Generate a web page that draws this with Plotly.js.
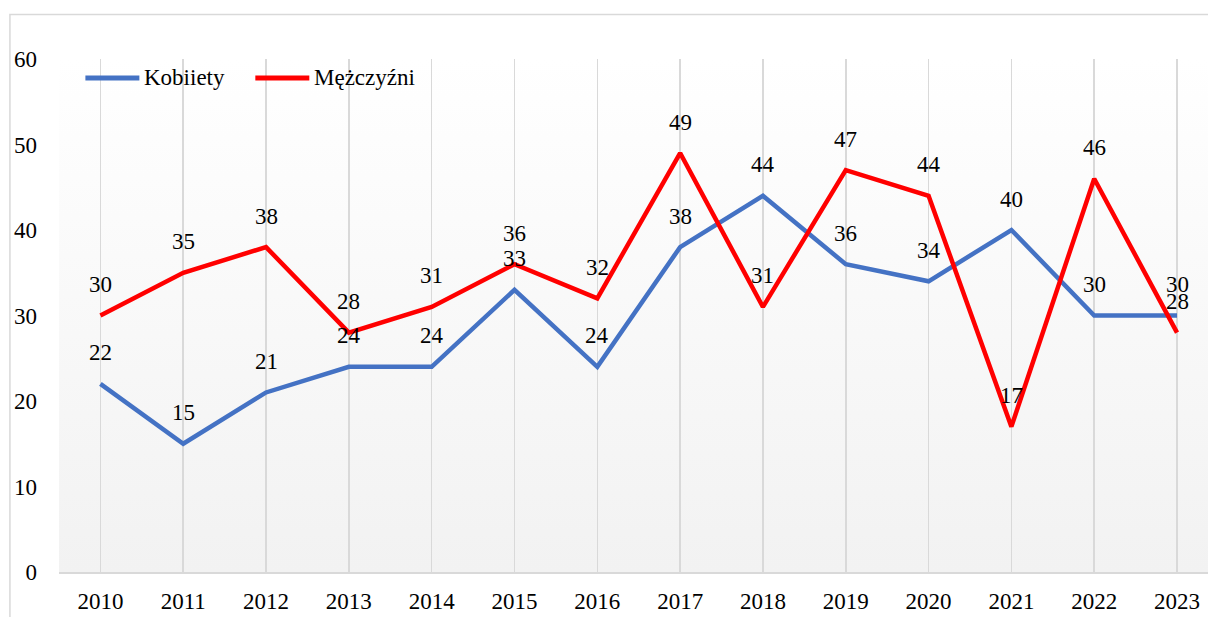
<!DOCTYPE html>
<html>
<head>
<meta charset="utf-8">
<script src="https://cdn.plot.ly/plotly-3.0.1.min.js"></script>
<style>
  html, body { margin: 0; padding: 0; background: #ffffff; }
  #wrap { position: relative; width: 1208px; height: 617px; overflow: hidden; }
  #bg { position: absolute; left: 58.6px; top: 59px; width: 1149.4px; height: 513px;
        background: linear-gradient(to bottom, #ffffff 0%, #f2f2f2 100%); }
  #chart { position: absolute; left: 0; top: 0; width: 1208px; height: 617px; }
</style>
</head>
<body>
<div id="wrap">
  <div id="bg"></div>
  <div id="chart"></div>
</div>
<script>
const years = ['2010','2011','2012','2013','2014','2015','2016','2017','2018','2019','2020','2021','2022','2023'];
const seriesNames = ['Kobiiety', 'Mężczyźni'];
const kobiety = [22, 15, 21, 24, 24, 33, 24, 38, 44, 36, 34, 40, 30, 30];
const mezczyzni = [30, 35, 38, 28, 31, 36, 32, 49, 31, 47, 44, 17, 46, 28];
const yTicks = [0, 10, 20, 30, 40, 50, 60];

const colors = ['#4472C4', '#FF0000'];
const fontFam = 'Liberation Serif';
const allSeries = [kobiety, mezczyzni];

const traces = allSeries.map((vals, i) => ({
  type: 'scatter',
  mode: 'lines',
  x: years,
  y: vals,
  name: seriesNames[i],
  line: { color: colors[i], width: 4.5 },
  hoverinfo: 'x+y+name'
}));

const annotations = [];
allSeries.forEach((vals, i) => {
  vals.forEach((v, j) => {
    annotations.push({
      x: j, y: v, xref: 'x', yref: 'y',
      text: String(v), showarrow: false,
      yanchor: 'middle', xanchor: 'center', yshift: 31,
      font: { family: fontFam, size: 23, color: '#000000' }
    });
  });
});

// custom legend
const PL = 58.6, PW = 1149.4, PT = 59, PH = 513;
const px = v => (v - PL) / PW;
const py = v => (PT + PH - v) / PH;
const legendItems = [
  { x0: 85, x1: 139, tx: 142 },
  { x0: 255, x1: 309, tx: 312 }
];
const shapes = [];
legendItems.forEach((it, i) => {
  shapes.push({
    type: 'line', xref: 'paper', yref: 'paper',
    x0: px(it.x0), x1: px(it.x1), y0: py(78), y1: py(78),
    line: { color: colors[i], width: 5 }
  });
  annotations.push({
    xref: 'paper', yref: 'paper', x: px(it.tx), y: py(77.5),
    xanchor: 'left', yanchor: 'middle', showarrow: false,
    text: seriesNames[i],
    font: { family: fontFam, size: 23, color: '#000000' }
  });
});
// outer chart border
shapes.push({
  type: 'rect', xref: 'paper', yref: 'paper',
  x0: px(9.5), x1: px(1230), y0: py(14.5), y1: py(660),
  line: { color: '#d9d9d9', width: 1.5 }, fillcolor: 'rgba(0,0,0,0)', layer: 'below'
});

const layout = {
  width: 1208, height: 617,
  margin: { l: PL, r: 0, t: PT, b: 617 - PT - PH, pad: 0 },
  paper_bgcolor: 'rgba(0,0,0,0)',
  plot_bgcolor: 'rgba(0,0,0,0)',
  showlegend: false,
  font: { family: fontFam, size: 23, color: '#000000' },
  xaxis: {
    type: 'category',
    range: [-0.5, 13.374],
    showgrid: true, gridcolor: '#d9d9d9', gridwidth: 1.5,
    showline: true, linecolor: '#d9d9d9', linewidth: 1.5,
    ticks: '', ticklabelstandoff: 8,
    tickfont: { family: fontFam, size: 23, color: '#000000' },
    zeroline: false, fixedrange: true
  },
  yaxis: {
    range: [0, 60],
    tickvals: yTicks,
    ticktext: yTicks.map(String),
    showgrid: false, zeroline: false, showline: false,
    ticks: '', ticklabelstandoff: 21,
    tickfont: { family: fontFam, size: 23, color: '#000000' },
    fixedrange: true
  },
  annotations: annotations,
  shapes: shapes
};

Plotly.newPlot('chart', traces, layout, { displayModeBar: false, staticPlot: true });
</script>
</body>
</html>
